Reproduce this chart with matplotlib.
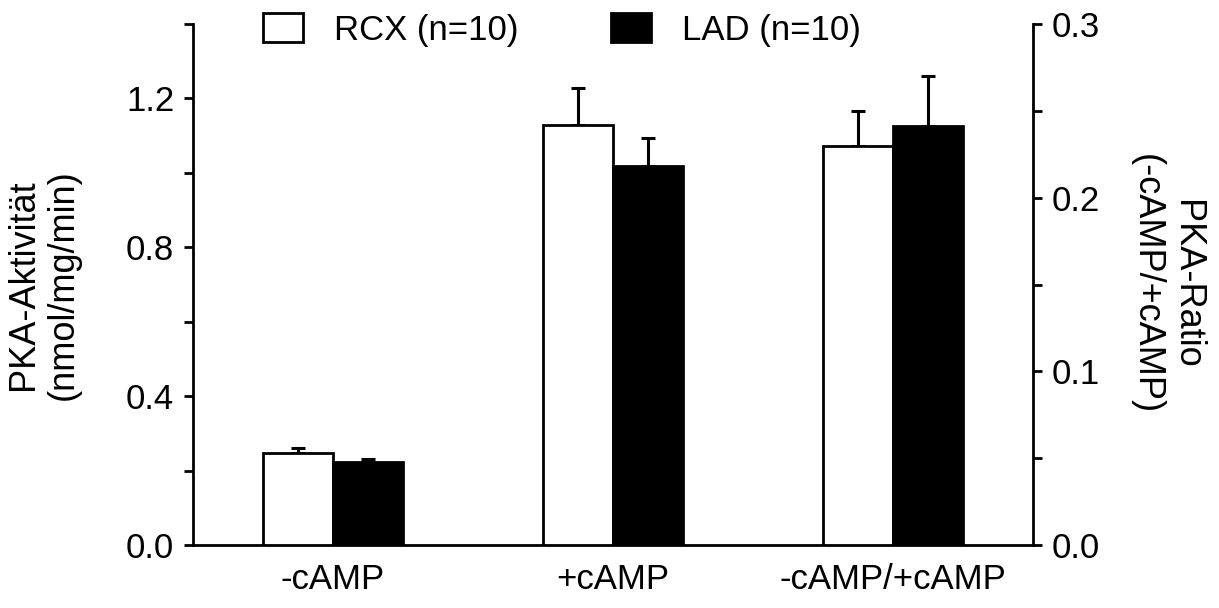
import matplotlib
matplotlib.use("Agg")
import matplotlib.pyplot as plt
import numpy as np
from matplotlib.patches import Patch
from matplotlib.ticker import MultipleLocator

plt.rcParams['font.family'] = ['Liberation Sans', 'DejaVu Sans']
plt.rcParams['font.size'] = 25

# PKA activity (left axis) and PKA ratio (right axis)
groups = ['-cAMP', '+cAMP', '-cAMP/+cAMP']
series = ['RCX (n=10)', 'LAD (n=10)']
activity_rcx = [0.247, 1.128]
activity_rcx_err = [0.013, 0.100]
activity_lad = [0.223, 1.018]
activity_lad_err = [0.008, 0.075]
ratio_rcx = 0.230
ratio_rcx_err = 0.020
ratio_lad = 0.241
ratio_lad_err = 0.029


def main():
    fig = plt.figure(figsize=(12.19, 6.08), dpi=100)
    ax = fig.add_axes([0.1583, 0.1036, 0.6891, 0.8569])
    ax2 = ax.twinx()

    w = 0.25
    x = np.arange(len(groups))
    bar_kw = dict(width=w, edgecolor='black', linewidth=2, zorder=3)
    err_kw = dict(fmt='none', ecolor='black', elinewidth=2.2, capsize=5,
                  capthick=2.2, zorder=2)

    # left axis: -cAMP and +cAMP activity
    ax.bar(x[:2] - w / 2, activity_rcx, color='white', **bar_kw)
    ax.bar(x[:2] + w / 2, activity_lad, color='black', **bar_kw)
    ax.errorbar(x[:2] - w / 2, activity_rcx,
                yerr=[np.zeros(2), activity_rcx_err], **err_kw)
    ax.errorbar(x[:2] + w / 2, activity_lad,
                yerr=[np.zeros(2), activity_lad_err], **err_kw)

    # right axis: ratio
    ax2.bar([x[2] - w / 2], [ratio_rcx], color='white', **bar_kw)
    ax2.bar([x[2] + w / 2], [ratio_lad], color='black', **bar_kw)
    ax2.errorbar([x[2] - w / 2], [ratio_rcx], yerr=[[0], [ratio_rcx_err]], **err_kw)
    ax2.errorbar([x[2] + w / 2], [ratio_lad], yerr=[[0], [ratio_lad_err]], **err_kw)

    ax.set_xlim(-0.5, 2.5)
    ax.set_ylim(0, 1.4)
    ax2.set_ylim(0, 0.3)

    ax.yaxis.set_major_locator(MultipleLocator(0.4))
    ax.yaxis.set_minor_locator(MultipleLocator(0.2))
    ax2.yaxis.set_major_locator(MultipleLocator(0.1))
    ax2.yaxis.set_minor_locator(MultipleLocator(0.05))
    ax.yaxis.set_major_formatter(plt.FormatStrFormatter('%.1f'))
    ax2.yaxis.set_major_formatter(plt.FormatStrFormatter('%.1f'))

    for a in (ax, ax2):
        a.tick_params(axis='y', which='both', direction='out', length=6.5,
                      width=2, labelsize=25, pad=7)
        a.spines['top'].set_visible(False)
        for s in a.spines.values():
            s.set_linewidth(2)
    ax.spines['right'].set_visible(False)
    ax2.spines['left'].set_visible(False)
    ax2.spines['bottom'].set_visible(False)

    ax.set_xticks(x)
    ax.set_xticklabels(groups)
    ax.tick_params(axis='x', length=0, labelsize=25, pad=13)

    ax.set_ylabel('PKA-Aktivität\n(nmol/mg/min)', fontsize=26, va='center',
                  ha='center')
    ax.yaxis.set_label_coords(-0.178, 0.5)
    ax2.set_ylabel('PKA-Ratio\n(-cAMP/+cAMP)', fontsize=26, rotation=270,
                   va='center', ha='center')
    ax2.yaxis.set_label_coords(1.159, 0.5)

    handles = [Patch(facecolor='white', edgecolor='black', linewidth=2),
               Patch(facecolor='black', edgecolor='black', linewidth=2)]
    fig.legend(handles, series, loc='upper left',
               bbox_to_anchor=(263 / 1219, 1 - 13 / 608), ncol=2,
               frameon=False, fontsize=25, borderpad=0, borderaxespad=0,
               handlelength=1.14, handleheight=0.93, handletextpad=0.9,
               columnspacing=2.67)

    fig.savefig('out.png', dpi=100)


if __name__ == "__main__":
    main()
